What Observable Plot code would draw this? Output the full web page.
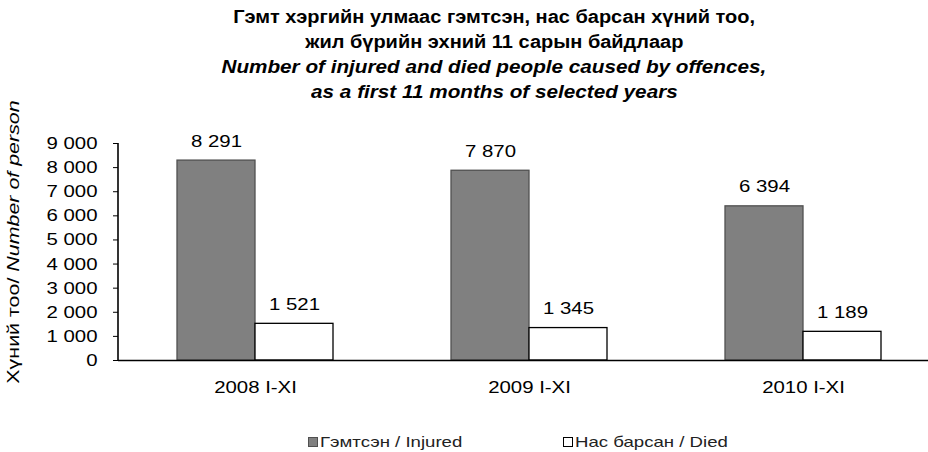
<!DOCTYPE html>
<html>
<head>
<meta charset="utf-8">
<script src="https://cdn.jsdelivr.net/npm/d3@7"></script>
<script src="https://cdn.jsdelivr.net/npm/@observablehq/plot@0.6"></script>
<style>
  html, body { margin: 0; padding: 0; background: #fff; }
  body { width: 928px; height: 452px; overflow: hidden; font-family: "Liberation Sans", Arial, sans-serif; color: #000; }
  #title { height: 100px; box-sizing: border-box; padding-top: 5px; padding-left: 60px; text-align: center; font-weight: bold; font-size: 18px; line-height: 25px; }
  #title div span { display: inline-block; transform: scaleX(1.11); transform-origin: center; white-space: nowrap; }
  #title .en span { font-style: italic; transform: scaleX(1.15); }
  #legend { position: relative; height: 42px; font-size: 15px; color: #222; }
  #legend .item { position: absolute; top: 23px; display: flex; align-items: center; white-space: nowrap; }
  #legend .item span { display: inline-block; transform: scaleX(1.24); transform-origin: left center; }
  #legend .sw { width: 8px; height: 8px; border: 1px solid #000; margin-right: 2px; box-sizing: content-box; }
  #chart svg { display: block; }
</style>
</head>
<body>
<div id="title">
  <div><span>Гэмт хэргийн улмаас гэмтсэн, нас барсан хүний тоо,</span></div>
  <div><span>жил бүрийн эхний 11 сарын байдлаар</span></div>
  <div class="en"><span>Number of injured and died people caused by offences,</span></div>
  <div class="en"><span>as a first 11 months of selected years</span></div>
</div>
<div id="chart"></div>
<div id="legend"></div>
<script>
const years = ["2008 I-XI", "2009 I-XI", "2010 I-XI"];
const injured = [8291, 7870, 6394];
const died = [1521, 1345, 1189];
const seriesKeys = ["Injured", "Died"];
const seriesLabels = ["Гэмтсэн / Injured", "Нас барсан / Died"];
const seriesColors = ["#808080", "#ffffff"];
const yTicks = [0, 1000, 2000, 3000, 4000, 5000, 6000, 7000, 8000, 9000];
const yLabelMn = "Хүний тоо/ ";
const yLabelEn = "Number of person";

const data = years.flatMap((y, i) => [
  {year: y, series: "Injured", value: injured[i]},
  {year: y, series: "Died", value: died[i]}
]);
const fmt = v => d3.format(",")(v).replace(/,/g, " ");
const marginLeft = 118;

const chart = Plot.plot({
  width: 928,
  height: 310,
  marginLeft,
  marginRight: -12,
  marginTop: 43,
  marginBottom: 50,
  style: {fontFamily: "'Liberation Sans', Arial, sans-serif", fontSize: "17px", color: "#000", background: "#fff", overflow: "hidden"},
  fx: {domain: years, padding: 0, label: null},
  x: {domain: seriesKeys, paddingInner: 0, paddingOuter: 0.745, axis: null},
  y: {domain: [0, 9000], label: null},
  marks: [
    Plot.barY(data.filter(d => d.series === "Injured"), {fx: "year", x: "series", y: "value", fill: seriesColors[0], stroke: "#505050", strokeWidth: 1.3}),
    Plot.barY(data.filter(d => d.series === "Died"), {fx: "year", x: "series", y: "value", fill: seriesColors[1], stroke: "#000", strokeWidth: 1.3}),
    Plot.text(data, {fx: "year", x: "series", y: "value", text: d => fmt(d.value), lineAnchor: "bottom", dy: -14, fontSize: 17, fill: "#000"}),
    Plot.ruleY([0], {stroke: "#000", strokeWidth: 1.5}),
    Plot.axisY({ticks: yTicks, tickSize: 5, tickPadding: 16, tickFormat: fmt, fontSize: 17,
      label: yLabelMn + yLabelEn, labelAnchor: "center", labelArrow: false, labelOffset: 112}),
    Plot.axisFx({anchor: "bottom", tickSize: 0, tickPadding: 20, label: null, fontSize: 17})
  ]
});
document.getElementById("chart").appendChild(chart);

const svgNS = "http://www.w3.org/2000/svg";

// mixed-style y label
const lbl = chart.querySelector('[aria-label="y-axis label"] text');
if (lbl) {
  lbl.textContent = "";
  const t1 = document.createElementNS(svgNS, "tspan");
  t1.textContent = yLabelMn;
  const t2 = document.createElementNS(svgNS, "tspan");
  t2.textContent = yLabelEn;
  t2.setAttribute("font-style", "italic");
  lbl.appendChild(t1); lbl.appendChild(t2);
}

// the reference glyphs are wider than Liberation Sans: stretch text horizontally
chart.querySelectorAll("text").forEach(t => {
  const isLabel = t === lbl;
  const s = isLabel ? "translate(10,0) scale(1.26,1)" : "scale(1.2,1)";
  const tr = t.getAttribute("transform");
  if (tr) {
    t.setAttribute("transform", tr + " " + s);
  } else {
    const x = +(t.getAttribute("x") || 0), y = +(t.getAttribute("y") || 0);
    t.removeAttribute("x"); t.removeAttribute("y");
    t.setAttribute("transform", `translate(${x},${y}) ${s}`);
  }
});

// vertical y-axis line, positioned through the chart's own y scale (added last, on top)
const ys = chart.scale("y");
const axisLine = document.createElementNS(svgNS, "line");
axisLine.setAttribute("x1", marginLeft); axisLine.setAttribute("x2", marginLeft);
axisLine.setAttribute("y1", ys.apply(ys.domain[0]) + 0.75); axisLine.setAttribute("y2", ys.apply(ys.domain[1]));
axisLine.setAttribute("stroke", "#000");
axisLine.setAttribute("stroke-width", "1.6");
axisLine.setAttribute("style", "stroke:#000;stroke-width:1.6px;stroke-opacity:1");
chart.appendChild(axisLine);

// legend
const legend = document.getElementById("legend");
const lefts = [308, 563];
seriesLabels.forEach((s, i) => {
  const item = document.createElement("div");
  item.className = "item";
  item.style.left = lefts[i] + "px";
  const sw = document.createElement("div");
  sw.className = "sw";
  sw.style.background = seriesColors[i];
  if (i === 0) sw.style.borderColor = "#505050";
  const tx = document.createElement("span");
  tx.textContent = s;
  item.appendChild(sw); item.appendChild(tx);
  legend.appendChild(item);
});
</script>
</body>
</html>
